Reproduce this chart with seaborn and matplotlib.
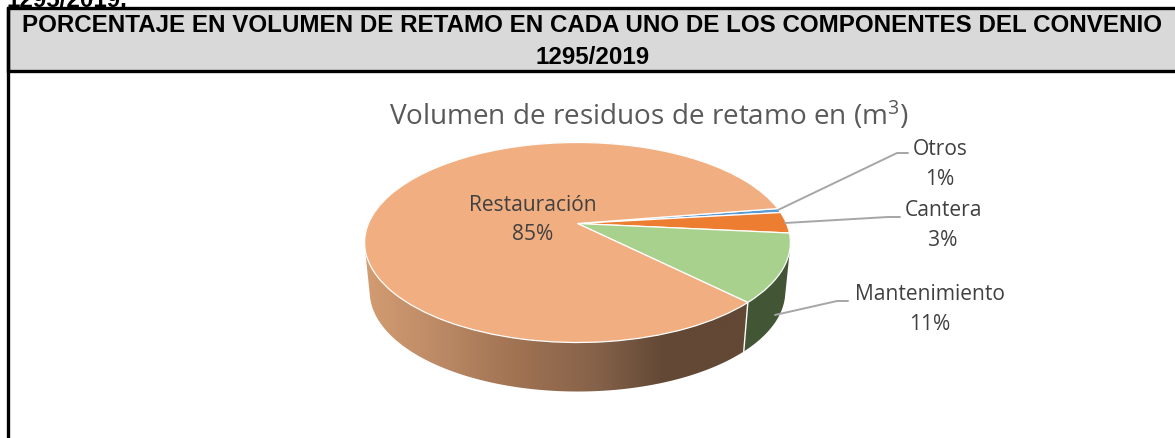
import numpy as np
import matplotlib
matplotlib.use("Agg")
import matplotlib.pyplot as plt
import seaborn as sns
from matplotlib.colors import LinearSegmentedColormap
from matplotlib.patches import PathPatch, Rectangle
from matplotlib.path import Path
from matplotlib.transforms import Transform

# ---- data ----
categories = ["Otros", "Cantera", "Mantenimiento", "Restauración"]
shares = [0.7, 3.4, 11.0, 84.9]
percent_labels = ["1%", "3%", "11%", "85%"]
top_colors = ["#5B9BD5", "#ED7D31", "#A9D18E", "#F1AE80"]
wall_colors = ["#2F5070", "#7E431B", "#425636", "#624835"]
header_lines = ["PORCENTAJE EN VOLUMEN DE RETAMO EN CADA UNO DE LOS COMPONENTES DEL CONVENIO", "1295/2019"]
clipped_line = "1295/2019."
chart_title = "Volumen de residuos de retamo en (m$^{3}$)"

sns.set_theme(style="white")
plt.rcParams["font.family"] = ["Open Sans", "DejaVu Sans"]
plt.rcParams["mathtext.fontset"] = "custom"
plt.rcParams["mathtext.rm"] = "Open Sans"
plt.rcParams["mathtext.default"] = "rm"
palette = sns.color_palette(top_colors)

fig = plt.figure(figsize=(11.75, 4.39), dpi=100, facecolor="white")
ax = fig.add_axes([0, 0, 1, 1])


class Tilt(Transform):
    """Perspective view of the unit-circle pie, into pixel coordinates."""
    input_dims = output_dims = 2
    is_separable = False
    has_inverse = False

    def __init__(self, cx=577.5, cy=224.5, a=209.0, b=96.4, q=0.19):
        super().__init__()
        self.p = (cx, cy, a, b, q)

    def transform_non_affine(self, values):
        cx, cy, a, b, q = self.p
        v = np.asarray(values, float)
        d = 1 + q * v[:, 1]
        return np.column_stack([cx + a * v[:, 0] / d, cy - b * v[:, 1] / d])


top = Tilt()
bottom = Tilt(cx=577.5, cy=273.5, a=204.0, b=96.4)

wedges, _ = ax.pie(shares, colors=palette, startangle=9.2, counterclock=False,
                   wedgeprops=dict(edgecolor="white", linewidth=0.9, zorder=5))
for w in wedges:
    w.set_transform(top + ax.transData)
ax.set_aspect("auto")
ax.set_xlim(0, 1175)
ax.set_ylim(439, 0)
ax.set_frame_on(False)


def hull(points):
    pts = sorted(map(tuple, points))

    def half(seq):
        out = []
        for p in seq:
            while len(out) > 1 and ((out[-1][0] - out[-2][0]) * (p[1] - out[-2][1])
                                    - (out[-1][1] - out[-2][1]) * (p[0] - out[-2][0])) <= 0:
                out.pop()
            out.append(p)
        return out[:-1]

    return np.array(half(pts) + half(pts[::-1]))


def wall_polygon(w):
    th = np.radians(np.linspace(w.theta1, w.theta2, 400))
    unit = np.column_stack([np.cos(th), np.sin(th)])
    return hull(np.vstack([top.transform(unit), bottom.transform(unit)]))


def wall_edge(angle):
    unit = np.array([[np.cos(np.radians(angle)), np.sin(np.radians(angle))]])
    return np.vstack([top.transform(unit), bottom.transform(unit)])


# side walls, drawn from the wedge angles
for w, col, name in zip(wedges, wall_colors, categories):
    poly = wall_polygon(w)
    if name == "Restauración":
        clip = PathPatch(Path(np.vstack([poly, poly[:1]]), closed=True), transform=ax.transData,
                         fc="none", ec="none")
        ax.add_patch(clip)
        cmap = LinearSegmentedColormap.from_list(
            "wall", [(0.0, "#D39C72"), (0.16, "#C08D68"), (0.40, "#9F7252"),
                     (0.60, "#86624A"), (0.78, "#624835"), (1.0, "#624835")])
        im = ax.imshow(np.linspace(0, 1, 256)[None, :], cmap=cmap, aspect="auto",
                       extent=[poly[:, 0].min(), 748, poly[:, 1].max(), 120], zorder=2)
        im.set_clip_path(clip)
    elif name == "Mantenimiento":
        ax.fill(poly[:, 0], poly[:, 1], color=col, lw=0, zorder=3)
boundary = wall_edge(wedges[2].theta1)
ax.plot(boundary[:, 0], boundary[:, 1], color="white", lw=1.0, zorder=4)
ax.set_xlim(0, 1175)
ax.set_ylim(439, 0)

# table frame
ax.add_patch(Rectangle((8, 9), 1175, 63, fc="#D9D9D9", ec="black", lw=2.4, zorder=1))
ax.plot([8, 8], [9, 439], color="black", lw=2.4, zorder=1)
hdr = dict(family="Liberation Sans", weight="bold", color="black", fontsize=17.36, ha="center", va="center")
ax.text(591.5, 26, header_lines[0], **hdr)
ax.text(593, 57.5, header_lines[1], **hdr)
ax.text(7, 7, clipped_line, family="Liberation Sans", weight="bold", color="black",
        fontsize=17.36, ha="left", va="baseline", clip_on=True)

ax.text(649, 116, chart_title, color="#595959", fontsize=20.1, ha="center", va="center")

# data labels
lab = dict(color="#404040", fontsize=15.1, ha="center", va="center", linespacing=1.55, zorder=7)
spots = {"Otros": (940, 164.5), "Cantera": (943, 225.5), "Mantenimiento": (930, 309.5), "Restauración": (533, 220)}
for name, pct in zip(categories, percent_labels):
    ax.text(*spots[name], f"{name}\n{pct}", **lab)

# leader lines
leader = dict(color="#A6A6A6", lw=1.4, zorder=6, solid_capstyle="round")
ax.plot([908, 897, 778], [154, 154, 211], **leader)
ax.plot([900, 888, 785], [218, 218, 224], **leader)
ax.plot([848, 837, 775], [302, 302, 316], **leader)

fig.savefig("out.png", dpi=100)
